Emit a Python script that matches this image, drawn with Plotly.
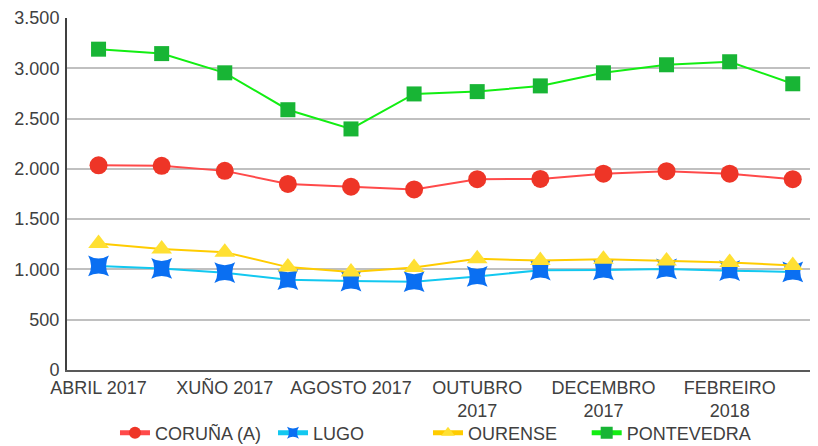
import plotly.graph_objects as go

months = ["ABRIL 2017", "MAIO 2017", "XUÑO 2017", "XULLO 2017", "AGOSTO 2017",
          "SETEMBRO 2017", "OUTUBRO 2017", "NOVEMBRO 2017", "DECEMBRO 2017",
          "XANEIRO 2018", "FEBREIRO 2018", "MARZO 2018"]
tick_months = ["ABRIL 2017", "XUÑO 2017", "AGOSTO 2017", "OUTUBRO 2017",
               "DECEMBRO 2017", "FEBREIRO 2018"]
tick_text = ["ABRIL 2017", "XUÑO 2017", "AGOSTO 2017", "OUTUBRO<br>2017",
             "DECEMBRO<br>2017", "FEBREIRO<br>2018"]

coruna = [2035, 2030, 1980, 1850, 1822, 1795, 1897, 1900, 1952, 1977, 1952, 1897]
lugo = [1035, 1010, 968, 898, 885, 878, 930, 993, 995, 1005, 988, 975]
ourense = [1258, 1202, 1172, 1023, 975, 1019, 1105, 1088, 1102, 1085, 1070, 1040]
pontevedra = [3190, 3146, 2955, 2588, 2397, 2745, 2768, 2825, 2955, 3035, 3065, 2846]

series = [
    ("CORUÑA (A)", coruna, "#FF4A4A", "#EE3527", "circle", 18, 0),
    ("LUGO", lugo, "#12C8F0", "#0A6FF2", "star-diamond", 21, 45),
    ("OURENSE", ourense, "#FFCC00", "#FFE033", "triangle-up", 18, 0),
    ("PONTEVEDRA", pontevedra, "#12EE12", "#18B535", "square", 15, 0),
]
legend_ids = ["legend", "legend2", "legend3", "legend4"]
legend_x = [0.0639, 0.2743, 0.4807, 0.6920]

font = "Liberation Sans, Arial, sans-serif"
fig = go.Figure()
for (name, vals, lc, mc, sym, sz, ang), lid in zip(series, legend_ids):
    fig.add_trace(go.Scatter(
        x=months, y=vals, name=name, mode="lines+markers", legend=lid,
        line=dict(color=lc, width=2),
        marker=dict(symbol=sym, size=sz, color=mc, angle=ang, line=dict(width=0)),
    ))

legend_common = dict(orientation="h", xanchor="left", y=-0.179, yanchor="middle",
                     bgcolor="rgba(0,0,0,0)",
                     font=dict(family=font, size=18, color="#404040"),
                     itemsizing="constant")
layout_legends = {lid: dict(x=lx, **legend_common) for lid, lx in zip(legend_ids, legend_x)}

fig.update_layout(
    width=810, height=438,
    margin=dict(l=59, r=0, t=10, b=76, autoexpand=False),
    paper_bgcolor="white", plot_bgcolor="white",
    separators=",.",
    font=dict(family=font, size=18, color="#404040"),
    showlegend=True,
    xaxis=dict(type="category", range=[-0.5, 11.4],
               tickmode="array", tickvals=tick_months, ticktext=tick_text,
               showgrid=False, showline=True, linecolor="#595959", linewidth=2,
               ticks="", tickfont=dict(size=18, color="#404040"), ticklabelstandoff=0),
    yaxis=dict(range=[0, 3500], dtick=500, tickformat=",d",
               showgrid=True, gridcolor="#C0C0C0", gridwidth=1.5,
               showline=True, linecolor="#404040", linewidth=2,
               zeroline=False, ticks="", ticklabelstandoff=2,
               tickfont=dict(size=18, color="#404040")),
    **layout_legends,
)
fig.write_html("out.html")
